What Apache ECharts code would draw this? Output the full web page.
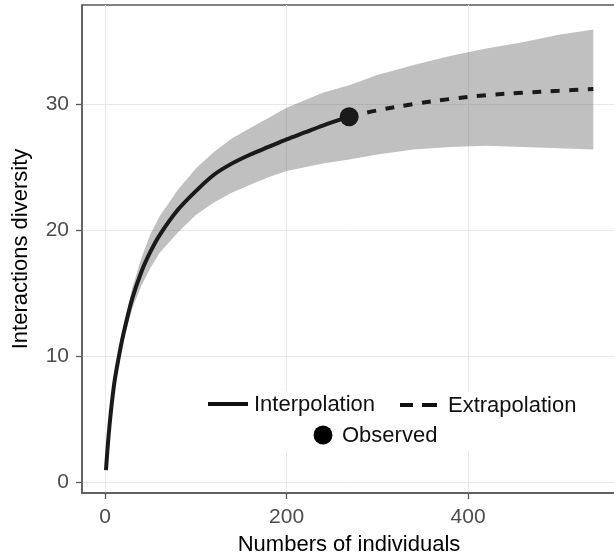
<!DOCTYPE html>
<html>
<head>
<meta charset="utf-8">
<script src="https://cdn.jsdelivr.net/npm/echarts@6/dist/echarts.min.js"></script>
<style>
  html, body { margin: 0; padding: 0; background: #fff; }
  #chart { width: 614px; height: 560px; }
</style>
</head>
<body>
<div id="chart"></div>
<script>
// sample sizes and estimates
var interpX = [1, 5, 10, 15, 20, 30, 40, 50, 60, 80, 100, 120, 140, 160, 180, 200, 220, 240, 269];
var interpY = [1.0, 4.6, 7.8, 9.9, 11.7, 14.6, 16.7, 18.3, 19.6, 21.6, 23.1, 24.4, 25.3, 26.0, 26.6, 27.2, 27.75, 28.3, 29.0];
var extrapX = [269, 300, 340, 380, 420, 460, 500, 538];
var extrapY = [29.0, 29.5, 30.0, 30.4, 30.7, 30.9, 31.05, 31.2];
var observed = [269, 29.0];

// confidence band
var bandX = [1, 5, 10, 15, 20, 30, 40, 50, 60, 80, 100, 120, 140, 160, 180, 200, 220, 240, 269, 300, 340, 380, 420, 460, 500, 538];
var bandLow = [1.0, 4.5, 7.6, 9.6, 11.2, 13.8, 15.6, 17.0, 18.2, 19.8, 21.2, 22.2, 23.0, 23.6, 24.2, 24.7, 25.0, 25.3, 25.6, 26.0, 26.4, 26.6, 26.7, 26.6, 26.5, 26.4];
var bandHigh = [1.0, 4.9, 8.2, 10.4, 12.2, 15.4, 17.8, 19.7, 21.1, 23.2, 24.9, 26.2, 27.3, 28.1, 28.9, 29.7, 30.3, 30.9, 31.5, 32.3, 33.1, 33.8, 34.4, 34.9, 35.5, 35.9];

var xTicks = [0, 200, 400];
var yTicks = [0, 10, 20, 30];

function zip(a, b) {
  return a.map(function (v, i) { return [v, b[i]]; });
}

var bandRows = bandX.map(function (v, i) { return [v, bandLow[i], bandHigh[i]]; });

// band drawn as one polygon: upper edge left to right, lower edge back
function renderBand(params, api) {
  if (params.dataIndex !== 0) return;
  var pts = [];
  bandRows.forEach(function (r) { pts.push(api.coord([r[0], r[2]])); });
  for (var i = bandRows.length - 1; i >= 0; i--) {
    pts.push(api.coord([bandRows[i][0], bandRows[i][1]]));
  }
  return {
    type: 'polygon',
    shape: { points: pts },
    style: { fill: 'rgba(97,97,97,0.4)' }
  };
}

var FONT = 'Liberation Sans, Arial, sans-serif';
var chart = echarts.init(document.getElementById('chart'));

chart.setOption({
  animation: false,
  grid: {
    left: 82, right: -2, top: 5, bottom: 67,
    outerBoundsMode: 'none',
    containLabel: false,
    show: true,
    borderColor: '#5a5a5a',
    borderWidth: 1.5,
    backgroundColor: '#fff'
  },
  xAxis: {
    type: 'value',
    min: -25.4, max: 563, interval: 100,
    name: 'Numbers of individuals',
    nameLocation: 'middle',
    nameGap: 41,
    nameTextStyle: { fontFamily: FONT, fontSize: 22, color: '#000' },
    axisLine: { show: true, onZero: false, lineStyle: { color: '#5a5a5a', width: 1.5 } },
    axisTick: { show: true, length: 6, customValues: xTicks, lineStyle: { color: '#5a5a5a', width: 1.3 } },
    axisLabel: { customValues: xTicks, margin: 14, fontFamily: FONT, fontSize: 21, color: '#4d4d4d' },
    splitLine: { show: true, lineStyle: { color: '#e8e8e8', width: 1 } }
  },
  yAxis: {
    type: 'value',
    min: -0.82, max: 37.85, interval: 5,
    name: 'Interactions diversity',
    nameLocation: 'middle',
    nameGap: 50,
    nameTextStyle: { fontFamily: FONT, fontSize: 22, color: '#000' },
    axisLine: { show: true, onZero: false, lineStyle: { color: '#5a5a5a', width: 1.5 } },
    axisTick: { show: true, length: 6, customValues: yTicks, lineStyle: { color: '#5a5a5a', width: 1.3 } },
    axisLabel: { customValues: yTicks, margin: 13, fontFamily: FONT, fontSize: 21, color: '#4d4d4d' },
    splitLine: { show: true, lineStyle: { color: '#e8e8e8', width: 1 } }
  },
  series: [
    {
      name: 'band',
      type: 'custom',
      data: bandRows,
      encode: { x: 0, y: [1, 2] },
      renderItem: renderBand,
      silent: true,
      clip: true,
      z: 1
    },
    {
      name: 'Interpolation',
      type: 'line',
      data: zip(interpX, interpY),
      symbol: 'none',
      smooth: 0.35,
      lineStyle: { color: '#1a1a1a', width: 4 },
      z: 3
    },
    {
      name: 'Extrapolation',
      type: 'line',
      data: zip(extrapX, extrapY),
      symbol: 'none',
      smooth: 0.35,
      lineStyle: { color: '#1a1a1a', width: 4, type: [9, 9.5] },
      z: 3
    },
    {
      name: 'Observed',
      type: 'scatter',
      data: [observed],
      symbol: 'circle',
      symbolSize: 19,
      itemStyle: { color: '#1a1a1a', opacity: 1 },
      z: 4
    }
  ],
  graphic: [
    { type: 'rect', z: 50, shape: { x: 205, y: 391, width: 381, height: 60 }, style: { fill: '#fff' } },
    { type: 'line', z: 51, shape: { x1: 208, y1: 404, x2: 248, y2: 404 }, style: { stroke: '#111', lineWidth: 4 } },
    { type: 'text', z: 51, x: 254, y: 405, style: { text: 'Interpolation', font: '22px ' + FONT, fill: '#111', verticalAlign: 'middle' } },
    { type: 'line', z: 51, shape: { x1: 400, y1: 405, x2: 413, y2: 405 }, style: { stroke: '#111', lineWidth: 4 } },
    { type: 'line', z: 51, shape: { x1: 422, y1: 405, x2: 437, y2: 405 }, style: { stroke: '#111', lineWidth: 4 } },
    { type: 'text', z: 51, x: 448, y: 406, style: { text: 'Extrapolation', font: '22px ' + FONT, fill: '#111', verticalAlign: 'middle' } },
    { type: 'circle', z: 51, shape: { cx: 323, cy: 435, r: 9.5 }, style: { fill: '#000' } },
    { type: 'text', z: 51, x: 342, y: 436, style: { text: 'Observed', font: '22px ' + FONT, fill: '#111', verticalAlign: 'middle' } }
  ]
});
</script>
</body>
</html>
